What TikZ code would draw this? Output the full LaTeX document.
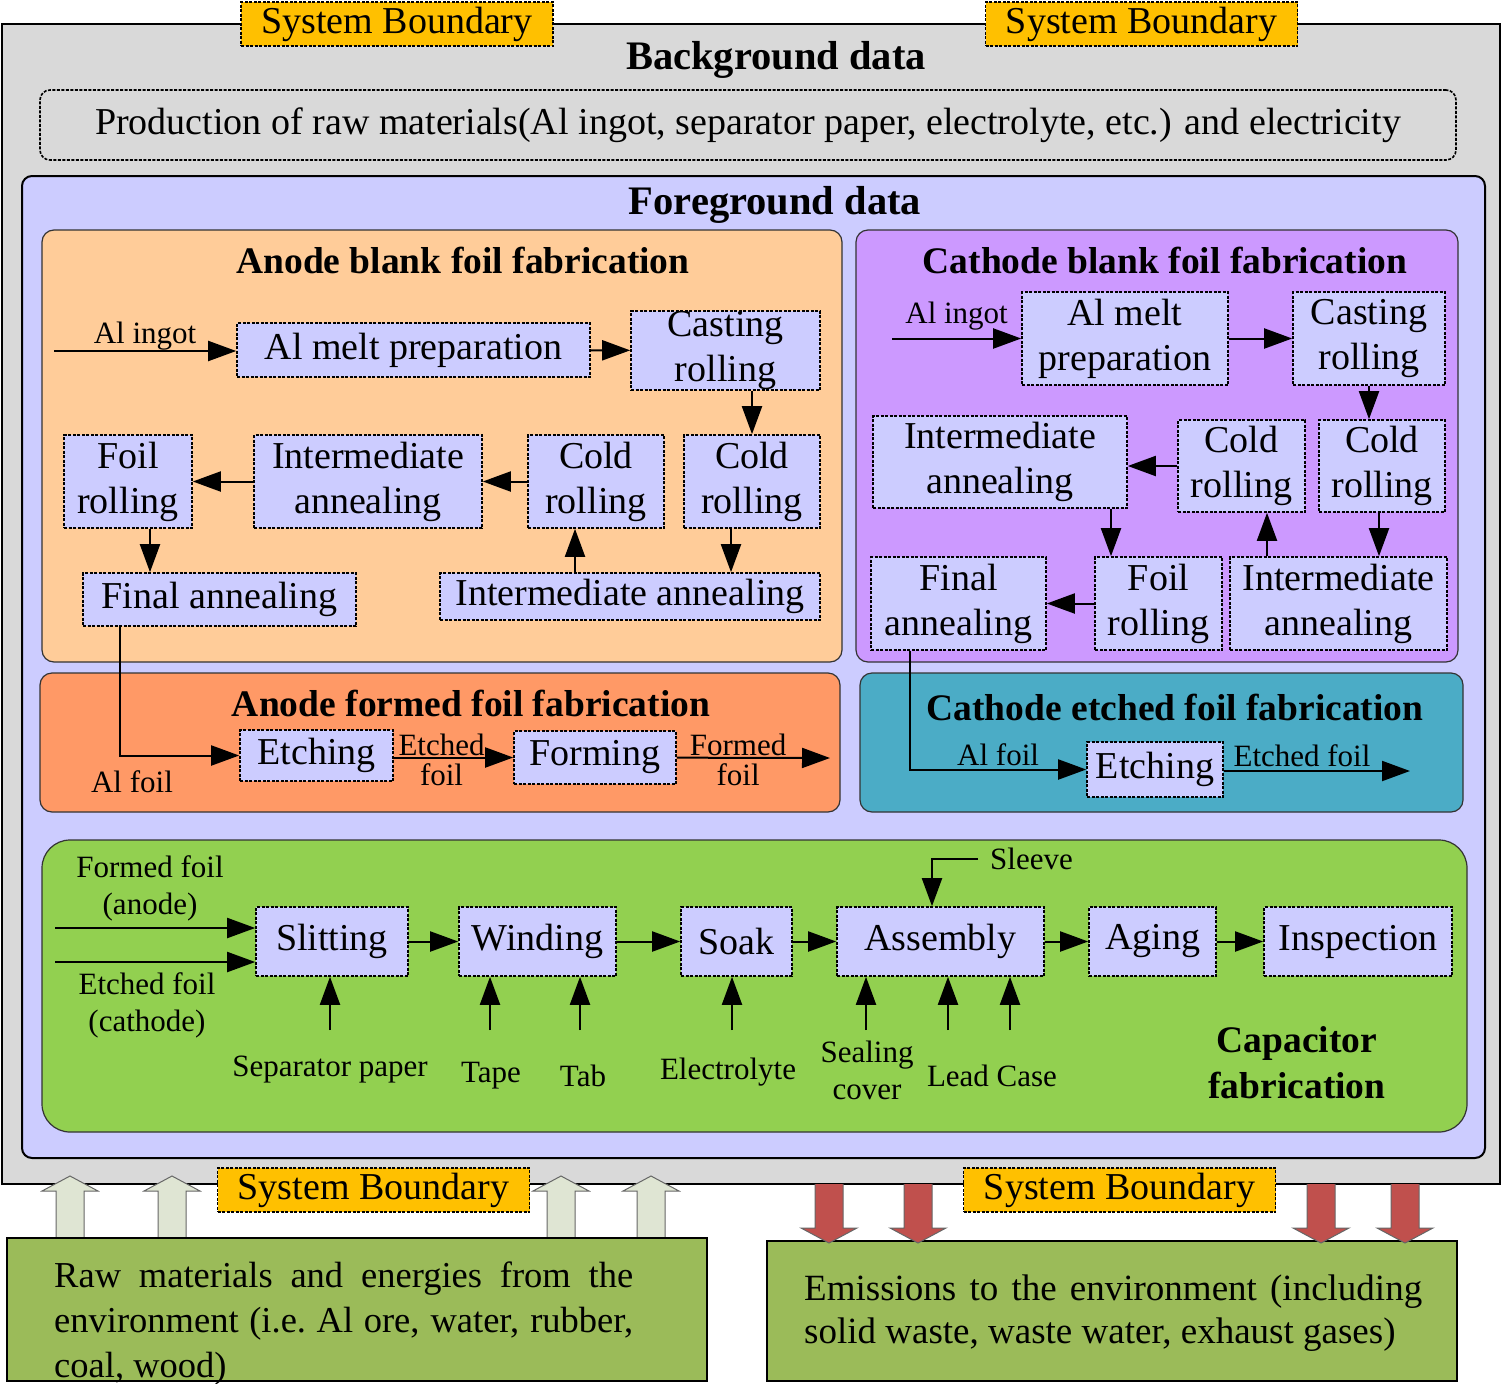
\documentclass[tikz,border=0pt]{standalone}
\usepackage{fontspec}
\setmainfont{Liberation Serif}
\usepackage{tikz}
\usetikzlibrary{positioning,arrows.meta,calc}

\definecolor{bggray}{HTML}{D9D9D9}
\definecolor{lav}{HTML}{CCCCFF}
\definecolor{peach}{HTML}{FFCC99}
\definecolor{orng}{HTML}{FF9966}
\definecolor{purp}{HTML}{CC99FF}
\definecolor{tealbox}{HTML}{4BACC6}
\definecolor{capgreen}{HTML}{92D050}
\definecolor{envgreen}{HTML}{9BBB59}
\definecolor{sbyellow}{HTML}{FFC000}
\definecolor{inlight}{HTML}{DFE5D3}
\definecolor{outred}{HTML}{C0504D}

\newcommand{\procfont}{\fontsize{38pt}{45pt}\selectfont}
\newcommand{\lblfont}{\fontsize{31pt}{37pt}\selectfont}
\newcommand{\ttlfont}{\fontsize{37.5pt}{46pt}\selectfont\bfseries}
\newcommand{\headfont}{\fontsize{40.5pt}{46pt}\selectfont\bfseries}
\newcommand{\envfont}{\fontsize{36.5pt}{45pt}\selectfont}
\newcommand{\emisfont}{\fontsize{37pt}{43pt}\selectfont}

\begin{document}
\begin{tikzpicture}[
  x=1pt,y=-1pt,
  font=\procfont,
  wh/.style 2 args={minimum width=#1pt,minimum height=#2pt},
  proc/.style={rectangle,draw,dash pattern=on 3pt off 1.5pt,line width=1.6pt,
               fill=lav,align=center,inner sep=0pt},
  region/.style={rectangle,draw=black!80,rounded corners=12pt,line width=1.2pt},
  ttl/.style={font=\ttlfont,inner sep=0pt},
  lbl/.style={font=\lblfont,inner sep=2pt,align=center},
  sysb/.style={rectangle,draw,dash pattern=on 3pt off 1.5pt,line width=1.6pt,
               fill=sbyellow,inner sep=0pt,wh={312}{44}},
  envbox/.style={rectangle,draw,line width=2pt,fill=envgreen,anchor=north west},
  envtxt/.style={anchor=north west,inner sep=0pt,align=left},
  arr/.style={-{Triangle[length=28pt,width=20pt]},line width=2pt},
  inarr/.style={draw=black!60,line width=1pt,fill=inlight},
  outarr/.style={draw=black!60,line width=1pt,fill=outred}
]
\useasboundingbox (0,0) rectangle (1502,1384);

% ---- background data ----
\node[rectangle,draw,line width=2.5pt,fill=bggray,wh={1498}{1160}] (bg) at (751,604) {};
\node[sysb] (sbtl) at (397,24) {System Boundary};
\node[sysb] (sbtr) at (1141.5,24) {System Boundary};
\node[font=\headfont] (bgttl) at (776,60) {Background data};
\node[rectangle,draw,dash pattern=on 3pt off 1.5pt,line width=1.6pt,rounded corners=10pt,
      wh={1416}{70}] (prod) at (748,125)
  {Production of raw materials(Al ingot, separator paper, electrolyte, etc.) and electricity};

% ---- foreground data ----
\node[rectangle,draw,line width=2pt,rounded corners=10pt,fill=lav,wh={1463}{982}] (fg) at (753.5,667) {};
\node[font=\headfont] (fgttl) at (775,205) {Foreground data};

% ---- anode blank foil ----
\node[region,fill=peach,wh={800}{432}] (anb) at (442,446) {};
\node[ttl] (anbttl) at (463,260) {Anode blank foil fabrication};
\node[proc,wh={353}{54}] (amelt) at (413.5,350) {Al melt preparation};
\node[proc,wh={189}{79}] (acast) at (725.5,350.5) {Casting\\rolling};
\node[proc,wh={128}{93}] (afoil) at (128,481.5) {Foil\\rolling};
\node[proc,wh={228}{93}] (aia1) at (368,481.5) {Intermediate\\annealing};
\node[proc,wh={136}{93}] (acold1) at (596,481.5) {Cold\\rolling};
\node[proc,wh={136}{93}] (acold2) at (752,481.5) {Cold\\rolling};
\node[proc,wh={273}{53}] (afinal) at (219.5,599.5) {Final annealing};
\node[proc,wh={380}{47}] (aia2) at (630,596.5) {Intermediate annealing};
\coordinate (ain) at (54,351);
\draw[arr] (ain) -- (ain -| amelt.west) node[midway,above,lbl,inner sep=0pt]{Al ingot};
\draw[arr] (amelt) -- (acast);
\draw[arr] (acast.south -| acold2) -- (acold2.north);
\draw[arr] ([xshift=-21pt]acold2.south) -- ([xshift=-21pt]acold2.south |- aia2.north);
\draw[arr] ([xshift=-21pt]acold1.south |- aia2.north) -- ([xshift=-21pt]acold1.south);
\draw[arr] (acold1) -- (aia1);
\draw[arr] (aia1) -- (afoil);
\draw[arr] ([xshift=22pt]afoil.south) -- ([xshift=22pt]afoil.south |- afinal.north);

% ---- anode formed foil ----
\node[region,fill=orng,wh={800}{139}] (anf) at (440,742.5) {};
\node[ttl] (anfttl) at (471,703) {Anode formed foil fabrication};
\node[proc,wh={153}{51}] (aetch) at (316.5,755.5) {Etching};
\node[proc,wh={162}{53}] (aform) at (595,757.5) {Forming};
\coordinate (aout) at (830,758);
\draw[arr] ([xshift=-99.5pt]afinal.south) |- (aetch.west);
\node[lbl] (afoillbl) at (132,782) {Al foil};
\draw[arr] (aetch.east |- aform) -- (aform.west)
  node[pos=0.4,above,lbl,inner sep=1pt]{Etched} node[pos=0.4,below=4pt,lbl,inner sep=1pt]{foil};
\draw[arr] (aform) -- (aout)
  node[pos=0.4,above,lbl,inner sep=1pt]{Formed} node[pos=0.4,below=4pt,lbl,inner sep=1pt]{foil};

% ---- cathode blank foil ----
\node[region,fill=purp,wh={602}{432}] (cab) at (1157,446) {};
\node[ttl] (cabttl) at (1165,260) {Cathode blank foil fabrication};
\node[proc,wh={206}{93}] (cmelt) at (1125,338.5) {Al melt\\preparation};
\node[proc,wh={152}{93}] (ccast) at (1369,338.5) {Casting\\rolling};
\node[proc,wh={254}{92}] (cia1) at (1000,462) {Intermediate\\annealing};
\node[proc,wh={127}{92}] (ccold1) at (1241.5,466) {Cold\\rolling};
\node[proc,wh={126}{92}] (ccold2) at (1382,466) {Cold\\rolling};
\node[proc,wh={175}{93}] (cfinal) at (958.5,603.5) {Final\\annealing};
\node[proc,wh={127}{93}] (cfoil) at (1158.5,603.5) {Foil\\rolling};
\node[proc,wh={217}{93}] (cia2) at (1338.5,603.5) {Intermediate\\annealing};
\coordinate (cin) at (892,338.5);
\draw[arr] (cin) -- (cmelt.west) node[midway,above=7pt,lbl,inner sep=0pt]{Al ingot};
\draw[arr] (cmelt) -- (ccast);
\draw[arr] (ccast.south) -- (ccast.south |- ccold2.north);
\draw[arr] ([xshift=-3pt]ccold2.south) -- ([xshift=-3pt]ccold2.south |- cia2.north);
\draw[arr] ([xshift=25.5pt]ccold1.south |- cia2.north) -- ([xshift=25.5pt]ccold1.south);
\draw[arr] (ccold1.west) -- (ccold1.west -| cia1.east);
\draw[arr] ([xshift=111pt]cia1.south) -- ([xshift=111pt]cia1.south |- cfoil.north);
\draw[arr] (cfoil) -- (cfinal);

% ---- cathode etched foil ----
\node[region,fill=tealbox,wh={603}{139}] (cef) at (1161.5,742.5) {};
\node[ttl] (cefttl) at (1175,707) {Cathode etched foil fabrication};
\node[proc,wh={136}{55}] (cetch) at (1155,769.5) {Etching};
\coordinate (cout) at (1410,771);
\draw[arr] ([xshift=-48.5pt]cfinal.south) |- (cetch.west)
  node[pos=0.75,above=2pt,lbl,inner sep=1pt]{Al foil};
\draw[arr] (cetch.east |- cout) -- (cout) node[pos=0.42,above=2pt,lbl,inner sep=1pt]{Etched foil};

% ---- capacitor ----
\node[region,fill=capgreen,rounded corners=28pt,wh={1425}{292}] (cap) at (754.5,986) {};
\node[ttl,align=center] (capttl) at (1297,1063) {Capacitor\\fabrication};
\node[proc,wh={152}{69}] (slit) at (332,941.5) {Slitting};
\node[proc,wh={157}{69}] (wind) at (537.5,941.5) {Winding};
\node[proc,wh={111}{69}] (soak) at (736.5,941.5) {Soak};
\node[proc,wh={207}{69}] (assem) at (940.5,941.5) {Assembly};
\node[proc,wh={127}{69}] (aging) at (1152.5,941.5) {Aging};
\node[proc,wh={188}{69}] (insp) at (1358,941.5) {Inspection};
\foreach \a/\b in {slit/wind,wind/soak,soak/assem,assem/aging,aging/insp}
  \draw[arr] (\a) -- (\b);
\coordinate (ffin) at (55,928);
\coordinate (efin) at (55,962);
\draw[arr] (ffin) -- (ffin -| slit.west);
\draw[arr] (efin) -- (efin -| slit.west);
\node[lbl] (fflbl) at (150,888) {Formed foil\\(anode)};
\node[lbl] (eflbl) at (147,1005) {Etched foil\\(cathode)};
\foreach \x/\tgt [count=\i] in {330/slit,490/wind,580/wind,732/soak,866/assem,948/assem,1010/assem}{
  \coordinate (feed\i) at (\x,1030);
  \draw[arr] (feed\i) -- (feed\i |- \tgt.south);
}
\node[lbl] (seplbl) at (330,1070) {Separator paper};
\node[lbl] (tapelbl) at (491,1076) {Tape};
\node[lbl] (tablbl) at (583,1076) {Tab};
\node[lbl] (eleclbl) at (728,1072) {Electrolyte};
\node[lbl] (seallbl) at (867,1070) {Sealing\\cover};
\node[lbl] (leadlbl) at (992,1076) {Lead Case};
\coordinate (slv) at (978,859);
\draw[arr] (slv) -| ([xshift=-8.5pt]assem.north);
\node[lbl,right=10pt of slv] (slvlbl) {Sleeve};

% ---- environment ----
\foreach \x in {70,172,561,651}
  \draw[inarr] (\x-14,1237) -- (\x-14,1191) -- (\x-28,1191) -- (\x,1176)
    -- (\x+28,1191) -- (\x+14,1191) -- (\x+14,1237);
\node[sysb] (sbbl) at (373.5,1190) {System Boundary};
\node[sysb] (sbbr) at (1119.5,1190) {System Boundary};
\node[envbox,wh={700}{143}] (raw) at (6,1237) {};
\node[envtxt,font=\envfont] (rawtxt) at ([xshift=48pt,yshift=-25pt]raw.north west)
  {\makebox[579pt][s]{Raw materials and energies from the}\\
   \makebox[579pt][s]{environment (i.e.\ Al ore, water, rubber,}\\
   coal, wood)};
\node[envbox,wh={690}{140}] (emis) at (766,1240) {};
\node[envtxt,font=\emisfont] (emistxt) at ([xshift=38pt,yshift=-35pt]emis.north west)
  {\makebox[618pt][s]{Emissions to the environment (including}\\
   solid waste, waste water, exhaust gases)};
\foreach \x in {829,918,1321,1405}
  \draw[outarr] (\x-14,1184) -- (\x-14,1228) -- (\x-28,1228) -- (\x,1243)
    -- (\x+28,1228) -- (\x+14,1228) -- (\x+14,1184);

\end{tikzpicture}
\end{document}
